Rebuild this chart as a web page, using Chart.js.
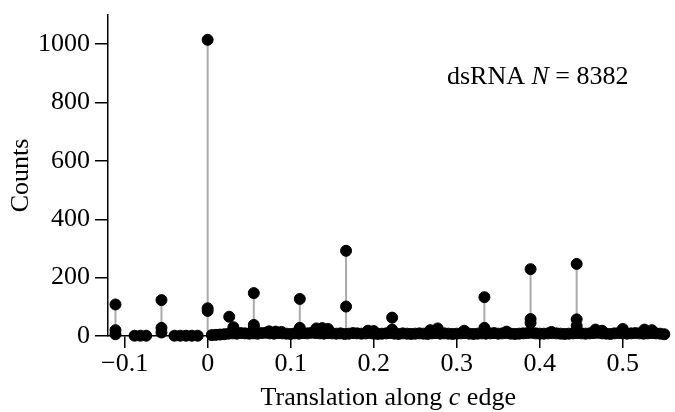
<!DOCTYPE html>
<html>
<head>
<meta charset="utf-8">
<script src="https://cdn.jsdelivr.net/npm/chart.js@4.4.0/dist/chart.umd.min.js"></script>
<style>
  html, body { margin: 0; padding: 0; background: #fff; }
</style>
</head>
<body>
<canvas id="stem-chart" width="675" height="412"></canvas>
<script>
// Axis ticks
const xTicks = [-0.1, 0, 0.1, 0.2, 0.3, 0.4, 0.5];
const xTickLabels = ['\u22120.1', '0', '0.1', '0.2', '0.3', '0.4', '0.5'];
const yTicks = [0, 200, 400, 600, 800, 1000];

// Stems: position and height of each peak
const stemX = [-0.111, -0.0556, 0, 0.0556, 0.111, 0.1667, 0.2222, 0.3333, 0.3889, 0.4444];
const stemTop = [108, 123, 1015, 147, 127, 292, 63, 133, 229, 247];

// Dots on the stems (and the few isolated bumps)
const peakX = [-0.111, -0.111, -0.111, -0.0556, -0.0556, -0.0556,
  0, 0, 0, 0.026, 0.0556, 0.0556, 0.0556, 0.111, 0.111,
  0.1667, 0.1667, 0.2222, 0.2222, 0.3333, 0.3333,
  0.3889, 0.3889, 0.3889, 0.4444, 0.4444, 0.4444];
const peakY = [108, 20, 6, 123, 28, 12,
  1015, 95, 86, 66, 147, 38, 30, 127, 28,
  292, 101, 63, 22, 133, 28,
  229, 58, 45, 247, 57, 35];

const bumpX = [-0.088, -0.081, -0.074, -0.04, -0.033, -0.026, -0.019, -0.012,
  0.031, 0.074, 0.082, 0.089, 0.131, 0.138, 0.145, 0.193, 0.2,
  0.268, 0.277, 0.309, 0.36, 0.414, 0.467, 0.475, 0.5, 0.526, 0.535];
const bumpY = [1, 1, 1, 1, 1, 1, 1, 1,
  30, 16, 15, 14, 26, 27, 24, 18, 17,
  20, 26, 18, 15, 14, 22, 18, 24, 22, 20];

// Dense low-count band
const bandX = [
  0.005, 0.01, 0.015, 0.02, 0.025, 0.03, 0.035, 0.04, 0.045, 0.05,
  0.055, 0.06, 0.065, 0.07, 0.075, 0.08, 0.085, 0.09, 0.095, 0.1,
  0.105, 0.11, 0.115, 0.12, 0.125, 0.13, 0.135, 0.14, 0.145, 0.15,
  0.155, 0.16, 0.165, 0.17, 0.175, 0.18, 0.185, 0.19, 0.195, 0.2,
  0.205, 0.21, 0.215, 0.22, 0.225, 0.23, 0.235, 0.24, 0.245, 0.25,
  0.255, 0.26, 0.265, 0.27, 0.275, 0.28, 0.285, 0.29, 0.295, 0.3,
  0.305, 0.31, 0.315, 0.32, 0.325, 0.33, 0.335, 0.34, 0.345, 0.35,
  0.355, 0.36, 0.365, 0.37, 0.375, 0.38, 0.385, 0.39, 0.395, 0.4,
  0.405, 0.41, 0.415, 0.42, 0.425, 0.43, 0.435, 0.44, 0.445, 0.45,
  0.455, 0.46, 0.465, 0.47, 0.475, 0.48, 0.485, 0.49, 0.495, 0.5,
  0.505, 0.51, 0.515, 0.52, 0.525, 0.53, 0.535, 0.54, 0.545, 0.55
];
const bandY = [
  3, 4, 5, 6, 8, 9, 8, 10, 9, 8,
  9, 8, 10, 11, 9, 8, 10, 9, 8, 7,
  9, 8, 10, 9, 11, 10, 9, 8, 10, 9,
  8, 9, 7, 8, 10, 9, 8, 9, 10, 8,
  7, 8, 9, 10, 8, 7, 9, 8, 7, 8,
  9, 8, 7, 9, 10, 8, 9, 8, 7, 8,
  9, 10, 8, 7, 8, 9, 8, 9, 10, 8,
  9, 10, 8, 7, 8, 9, 10, 11, 9, 8,
  8, 9, 10, 9, 8, 7, 8, 9, 10, 9,
  8, 9, 10, 11, 9, 8, 7, 9, 10, 9,
  8, 9, 10, 9, 8, 9, 10, 9, 8, 6
];

const FONT = "'Liberation Serif', 'Times New Roman', serif";

// Build stem segments separated by gaps
const stemData = [];
stemX.forEach((x, i) => {
  stemData.push({ x: x, y: 0 }, { x: x, y: stemTop[i] }, { x: x, y: null });
});

const pointData = []
  .concat(bandX.map((x, i) => ({ x: x, y: bandY[i] })))
  .concat(bumpX.map((x, i) => ({ x: x, y: bumpY[i] })))
  .concat(peakX.map((x, i) => ({ x: x, y: peakY[i] })));

// Draw text runs (mixed upright / italic) centred or left aligned
function drawRuns(ctx, runs, x, y, align) {
  const size = 26;
  let total = 0;
  runs.forEach(r => {
    ctx.font = (r[1] ? 'italic ' : '') + size + 'px ' + FONT;
    total += ctx.measureText(r[0]).width;
  });
  let cx = align === 'center' ? x - total / 2 : x;
  ctx.textAlign = 'left';
  ctx.textBaseline = 'alphabetic';
  ctx.fillStyle = '#000';
  runs.forEach(r => {
    ctx.font = (r[1] ? 'italic ' : '') + size + 'px ' + FONT;
    ctx.fillText(r[0], cx, y);
    cx += ctx.measureText(r[0]).width;
  });
}

const textPlugin = {
  id: 'texts',
  afterDraw(chart) {
    const ctx = chart.ctx;
    const area = chart.chartArea;
    ctx.save();
    drawRuns(ctx, [['Translation along ', false], ['c', true], [' edge', false]],
      (area.left + area.right) / 2, 405, 'center');
    drawRuns(ctx, [['dsRNA ', false], ['N', true], [' = 8382', false]], 447, 84, 'left');
    ctx.restore();
  }
};

new Chart(document.getElementById('stem-chart'), {
  type: 'scatter',
  data: {
    datasets: [
      {
        label: 'points',
        data: pointData,
        backgroundColor: '#000',
        borderColor: '#000',
        pointRadius: 5.5,
        pointHoverRadius: 5.5,
        showLine: false,
        clip: false,
        order: 1
      },
      {
        label: 'stems',
        data: stemData,
        showLine: true,
        spanGaps: false,
        borderColor: '#aaaaaa',
        borderWidth: 2,
        pointRadius: 0,
        order: 2
      }
    ]
  },
  plugins: [textPlugin],
  options: {
    responsive: false,
    animation: false,
    layout: { padding: { top: 15, right: 2, left: 0, bottom: 0 } },
    plugins: {
      legend: { display: false },
      tooltip: { enabled: false }
    },
    scales: {
      x: {
        type: 'linear',
        min: -0.12,
        max: 0.555,
        afterFit: s => { s.height = 76; s.paddingLeft = 0; s.paddingRight = 0; },
        afterBuildTicks: s => { s.ticks = xTicks.map(v => ({ value: v })); },
        border: { color: '#000', width: 1.5 },
        grid: { display: true, drawOnChartArea: false, drawTicks: true, tickLength: 12, color: '#000', lineWidth: 1.5 },
        ticks: {
          color: '#000',
          padding: 1,
          maxRotation: 0,
          font: { family: FONT, size: 26 },
          callback: (v, i) => xTickLabels[i]
        }
      },
      y: {
        type: 'linear',
        min: 0,
        max: 1100,
        afterFit: s => { s.width = 108; s.paddingTop = 0; s.paddingBottom = 0; },
        afterBuildTicks: s => { s.ticks = yTicks.map(v => ({ value: v })); },
        border: { color: '#000', width: 1.5 },
        grid: { display: true, drawOnChartArea: false, drawTicks: true, tickLength: 13, color: '#000', lineWidth: 1.5 },
        ticks: {
          color: '#000',
          padding: 5,
          font: { family: FONT, size: 26 },
          callback: v => String(v)
        },
        title: {
          display: true,
          text: 'Counts',
          color: '#000',
          padding: { top: 6, bottom: 0 },
          font: { family: FONT, size: 26, weight: 'normal' }
        }
      }
    }
  }
});
</script>
</body>
</html>
